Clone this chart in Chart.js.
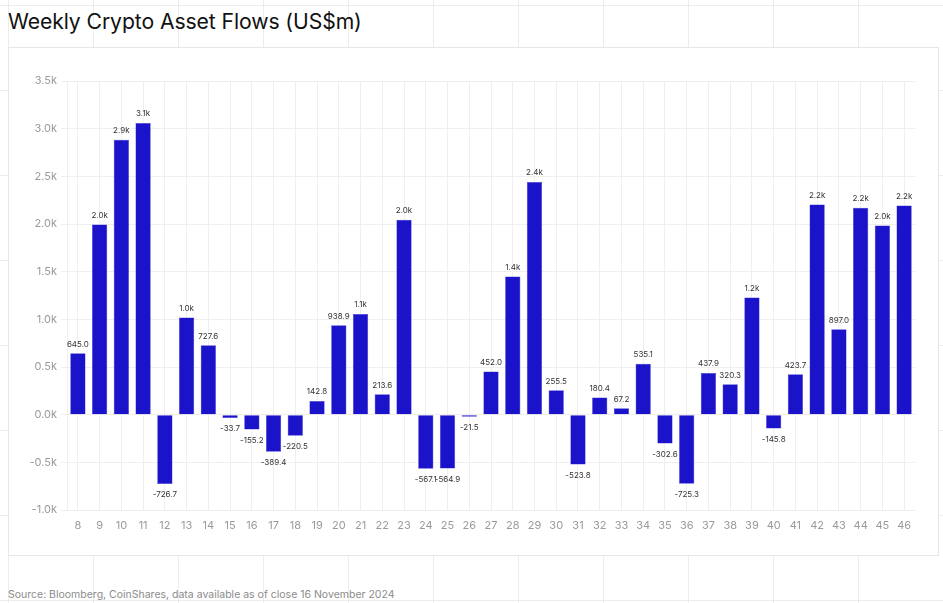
<!DOCTYPE html>
<html>
<head>
<meta charset="utf-8">
<script src="https://cdn.jsdelivr.net/npm/chart.js@4/dist/chart.umd.min.js"></script>
<style>
  html, body { margin: 0; padding: 0; }
  body {
    width: 943px; height: 603px; position: relative; overflow: hidden;
    background-color: #ffffff;
    background-image:
      linear-gradient(to right, #ececec 1px, transparent 1px),
      linear-gradient(to bottom, #ececec 1px, transparent 1px);
    background-size: 85px 85px;
    background-position: 8px 5px;
    font-family: Inter, "Noto Sans", sans-serif;
  }
  #panel {
    position: absolute; left: 8px; top: 47px; width: 929px; height: 507px;
    background: #fff; border: 1px solid #e6e6e6;
  }
  #title {
    position: absolute; left: 8px; top: 8px; margin: 0;
    font-size: 21.2px; font-weight: 400; color: #111; letter-spacing: -0.1px;
    white-space: nowrap;
  }
  #source {
    position: absolute; left: 8px; top: 588px;
    font-size: 10.5px; color: #8c8c8c; white-space: nowrap;
  }
  #wrap { position: absolute; left: 0; top: 0; width: 943px; height: 603px; }
</style>
</head>
<body>
<div id="panel"></div>
<h1 id="title">Weekly Crypto Asset Flows (US$m)</h1>
<div id="source">Source: Bloomberg, CoinShares, data available as of close 16 November 2024</div>
<div id="wrap"><canvas id="c" width="943" height="603"></canvas></div>
<script>
const weeks = ['8','9','10','11','12','13','14','15','16','17','18','19','20','21','22','23','24','25','26','27','28','29','30','31','32','33','34','35','36','37','38','39','40','41','42','43','44','45','46'];
const flows = [645.0, 1995, 2885, 3060, -726.7, 1020, 727.6, -33.7, -155.2, -389.4, -220.5, 142.8, 938.9, 1055, 213.6, 2045, -567.1, -564.9, -21.5, 452.0, 1450, 2440, 255.5, -523.8, 180.4, 67.2, 535.1, -302.6, -725.3, 437.9, 320.3, 1230, -145.8, 423.7, 2205, 897.0, 2170, 1985, 2195];
const yTicks = [-1000, -500, 0, 500, 1000, 1500, 2000, 2500, 3000, 3500];

function fmtLabel(v) {
  return Math.abs(v) >= 1000 ? (v / 1000).toFixed(1) + 'k' : v.toFixed(1);
}

const valueLabels = {
  id: 'valueLabels',
  afterDatasetsDraw(chart) {
    const ctx = chart.ctx;
    const meta = chart.getDatasetMeta(0);
    ctx.save();
    ctx.font = '8px Inter, "Noto Sans", sans-serif';
    ctx.fillStyle = '#333333';
    ctx.textAlign = 'center';
    ctx.textBaseline = 'middle';
    meta.data.forEach((bar, i) => {
      const v = flows[i];
      ctx.fillText(fmtLabel(v), bar.x, v >= 0 ? bar.y - 9 : bar.y + 11);
    });
    ctx.restore();
  }
};

new Chart(document.getElementById('c'), {
  type: 'bar',
  data: {
    labels: weeks,
    datasets: [{
      data: flows,
      backgroundColor: '#1b13c9',
      borderColor: '#3f38d6',
      borderWidth: 0.5,
      barPercentage: 0.9,
      categoryPercentage: 0.78
    }]
  },
  options: {
    responsive: false,
    animation: false,
    layout: { padding: { left: 0, right: 28, top: 81, bottom: 0 } },
    plugins: { legend: { display: false }, tooltip: { enabled: false } },
    scales: {
      x: {
        grid: { offset: false, color: '#efefef', drawTicks: false },
        border: { color: '#efefef' },
        ticks: { color: '#9a9a9a', font: { size: 11, family: 'Inter' }, padding: 9, maxRotation: 0, autoSkip: false },
        afterFit(scale) { scale.height = 93; }
      },
      y: {
        min: -1000, max: 3500,
        afterBuildTicks(scale) { scale.ticks = yTicks.map(v => ({ value: v })); },
        grid: { color: '#efefef', tickLength: 6 },
        border: { color: '#efefef' },
        ticks: {
          color: '#9a9a9a', font: { size: 11, family: 'Inter' }, padding: 4,
          callback: v => (v / 1000).toFixed(1) + 'k'
        },
        afterFit(scale) { scale.width = 67; }
      }
    }
  },
  plugins: [valueLabels]
});
</script>
</body>
</html>
